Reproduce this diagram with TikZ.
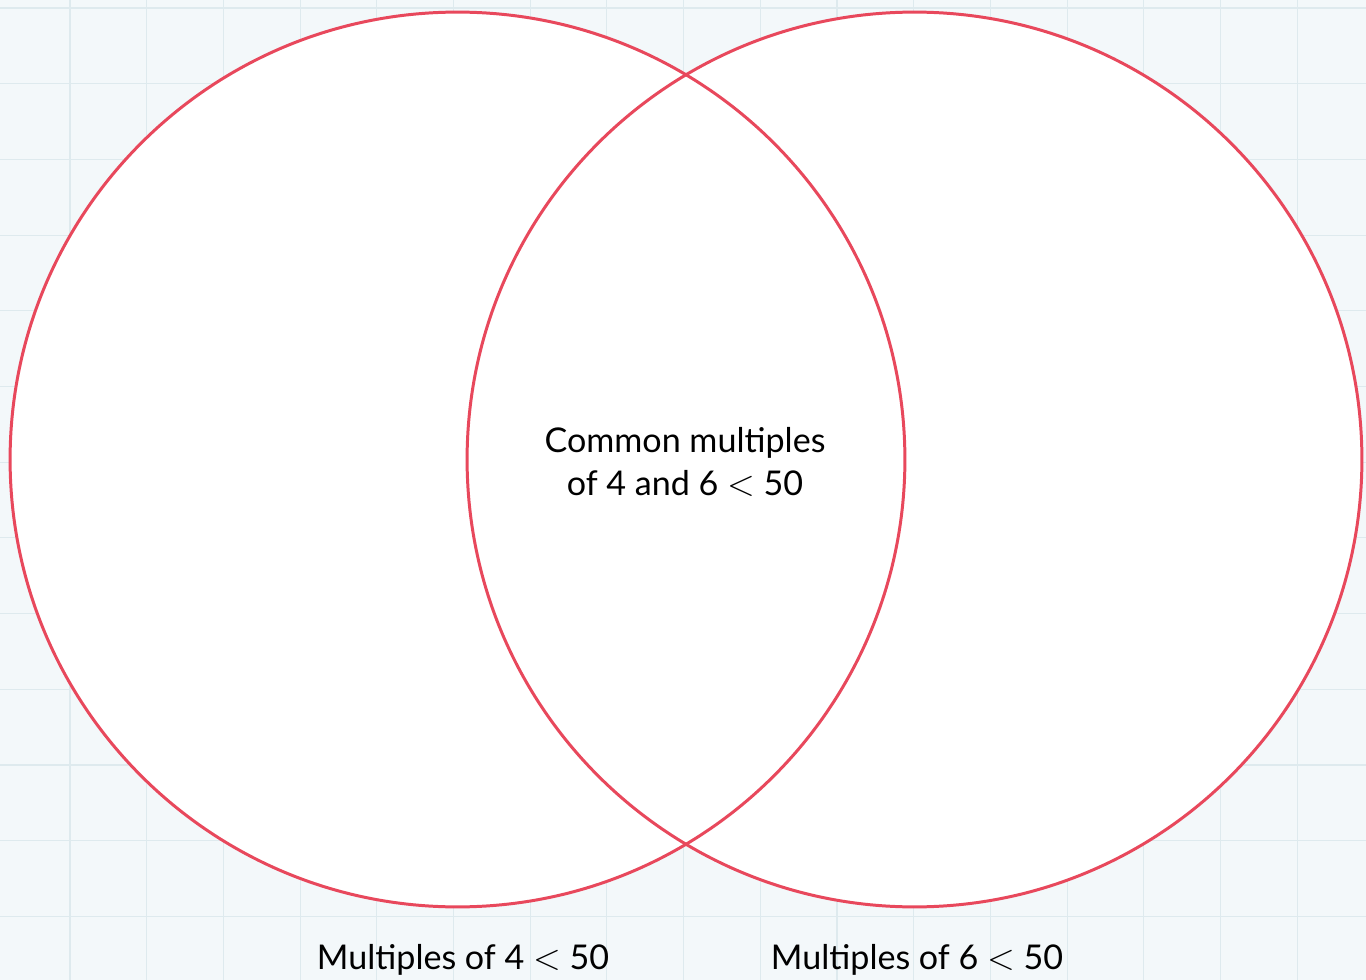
\documentclass[tikz,border=0pt]{standalone}
\usepackage{fontspec}
\setmainfont{Lato}
\usepackage{xcolor}
\usepackage{tikz}
\usetikzlibrary{positioning}

\definecolor{paper}{RGB}{243,248,250}
\definecolor{gridline}{RGB}{222,234,238}
\definecolor{setred}{RGB}{232,72,92}

\begin{document}
\begin{tikzpicture}[
  x=0.02cm, y=-0.02cm,
  every node/.style={font=\fontsize{19.4}{24.4}\selectfont, text=black},
  setcircle/.style={circle, minimum size=17.9cm, inner sep=0pt},
  setlabel/.style={align=center}
]
% paper with grid
\fill[paper] (0,0) rectangle (1366,980);
\useasboundingbox (0,0) rectangle (1366,980);
\foreach \k in {0,...,16}
  \draw[gridline, line width=0.6pt] (70+\k*76.7,0) -- (70+\k*76.7,980);
\foreach \k in {0,...,12}
  \draw[gridline, line width=0.6pt] (0,8+\k*75.7) -- (1366,8+\k*75.7);

% the two sets
\node[setcircle, fill=white] (four) at (457.5,459.5) {};
\node[setcircle, fill=white] (six)  at (914.5,459.5) {};
\draw[setred, line width=1.7pt] (four.center) circle[radius=8.95cm];
\draw[setred, line width=1.7pt] (six.center) circle[radius=8.95cm];

% labels
\node[setlabel] (common) at (685,462) {Common multiples\\of 4 and 6 $<$ 50};
\node[setlabel] (fourlabel) at (463,960) {Multiples of 4 $<$ 50};
\node[setlabel] (sixlabel)  at (917,960) {Multiples of 6 $<$ 50};
\end{tikzpicture}
\end{document}
